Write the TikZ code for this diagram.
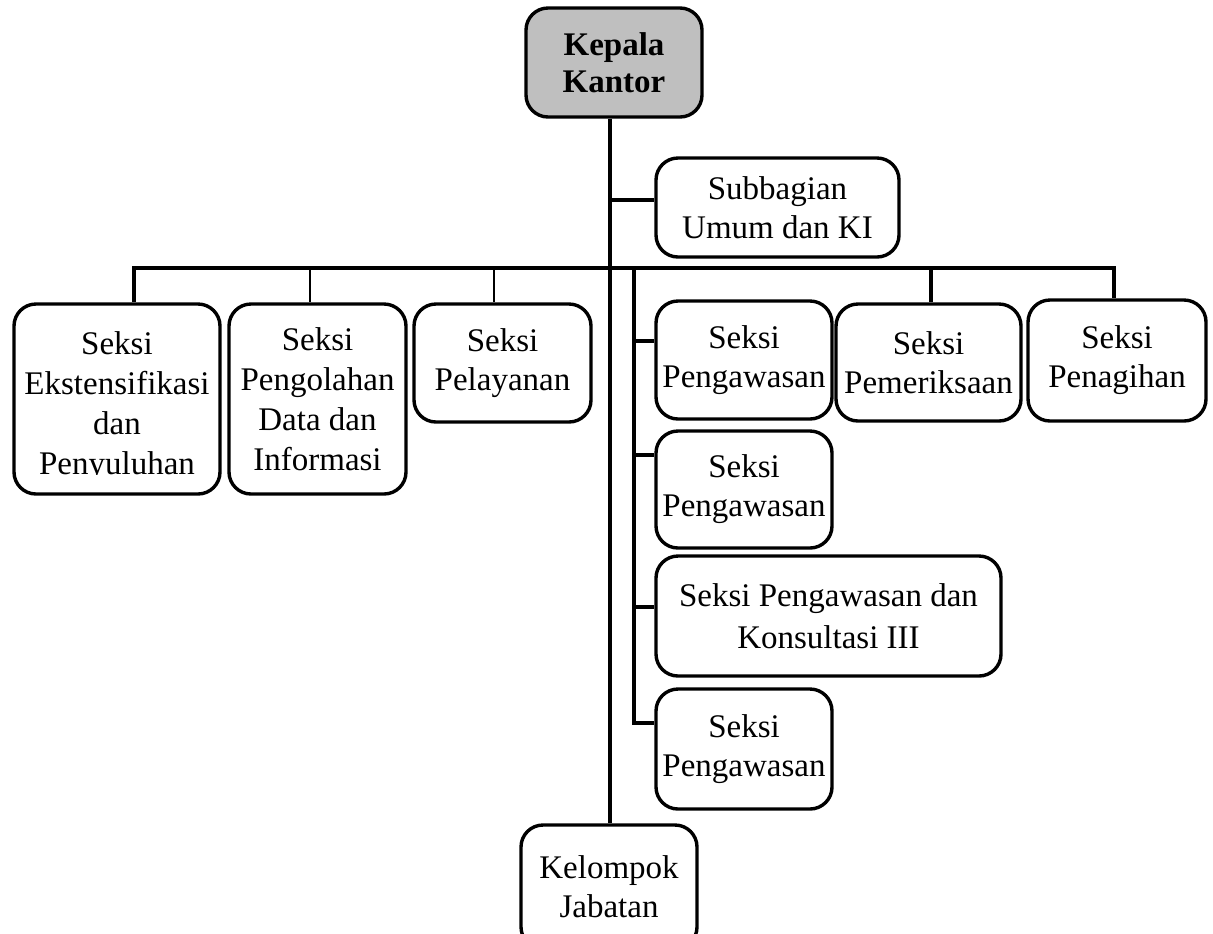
\documentclass[tikz,border=0pt]{standalone}
\usepackage{fontspec}
\setmainfont{Liberation Serif}
\begin{document}
\begin{tikzpicture}[x=0.5pt,y=-0.5pt,
  box/.style={draw,line width=1.7pt,rounded corners=11pt,align=center,inner sep=2pt,
    font=\fontsize{16.5pt}{19.5pt}\selectfont},
  txt/.style={align=center,inner sep=0pt,font=\fontsize{16.5pt}{20pt}\selectfont},
  conn/.style={line width=1.6pt},
  thinconn/.style={line width=1.1pt}]
\clip (0,0) rectangle (1213,933);
\definecolor{headgray}{RGB}{191,191,191}

% boxes
\node[box,fill=headgray,minimum width=88pt,minimum height=54.5pt,
  font=\fontsize{16.5pt}{18.5pt}\selectfont\bfseries] (kepala) at (614,62.5) {Kepala\\Kantor};
\node[box,minimum width=121.5pt,minimum height=49.5pt] (sub) at (777.5,207.5) {Subbagian\\Umum dan KI};
\node[box,minimum width=103pt,minimum height=95pt] (ext) at (117,399) {};
\begin{scope}
  \clip (13,300) rectangle (221,474);
  \node[txt] (extT) at (117,407) {Seksi\\Ekstensifikasi\\dan\\Penyuluhan};
\end{scope}
\node[box,minimum width=88.5pt,minimum height=95pt,font=\fontsize{16.5pt}{20pt}\selectfont] (peng) at (317.5,399) {Seksi\\Pengolahan\\Data dan\\Informasi};
\node[box,minimum width=88.5pt,minimum height=59pt] (pel) at (502.5,363) {Seksi\\Pelayanan};
\node[box,minimum width=88pt,minimum height=59pt] (pg1) at (744,360) {Seksi\\Pengawasan};
\node[box,minimum width=92.5pt,minimum height=58.5pt] (pem) at (928.5,362.5) {Seksi\\Pemeriksaan};
\node[box,minimum width=89pt,minimum height=60.5pt] (pen) at (1117,360.5) {Seksi\\Penagihan};
\node[box,minimum width=88pt,minimum height=58.5pt] (pg2) at (744,489.5) {Seksi\\Pengawasan};
\node[box,minimum width=172.5pt,minimum height=60pt,font=\fontsize{16.5pt}{21pt}\selectfont] (kons) at (828.5,616) {Seksi Pengawasan dan\\Konsultasi III};
\node[box,minimum width=88pt,minimum height=60pt] (pg4) at (744,749) {Seksi\\Pengawasan};
\node[box,minimum width=88pt,minimum height=62pt] (kel) at (609,887) {Kelompok\\Jabatan};

% connector coordinates
\coordinate (vx) at (610,0);
\coordinate (barL) at (134,268);
\coordinate (barR) at (1114,268);
\coordinate (v2top) at (634,268);
\coordinate (d2) at (310,268);
\coordinate (d3) at (494,268);
\coordinate (d4) at (931,268);
\coordinate (b1) at (634,341);
\coordinate (b2) at (634,455);
\coordinate (b3) at (634,607);
\coordinate (b4) at (634,723);
\coordinate (bs) at (610,200);

% main vertical
\draw[conn] (vx |- kepala.south) -- (vx |- kel.north);
\draw[conn] (bs) -- (bs -| sub.west);
% horizontal bar
\draw[conn] (barL |- ext.north) -- (barL) -- (barR) -- (barR |- pen.north);
\draw[thinconn] (d2) -- (d2 |- peng.north);
\draw[thinconn] (d3) -- (d3 |- pel.north);
\draw[conn] (d4) -- (d4 |- pem.north);
% second vertical
\draw[conn] (v2top) -- (b4) -- (b4 -| pg4.west);
\draw[conn] (b1) -- (b1 -| pg1.west);
\draw[conn] (b2) -- (b2 -| pg2.west);
\draw[conn] (b3) -- (b3 -| kons.west);
\end{tikzpicture}
\end{document}
